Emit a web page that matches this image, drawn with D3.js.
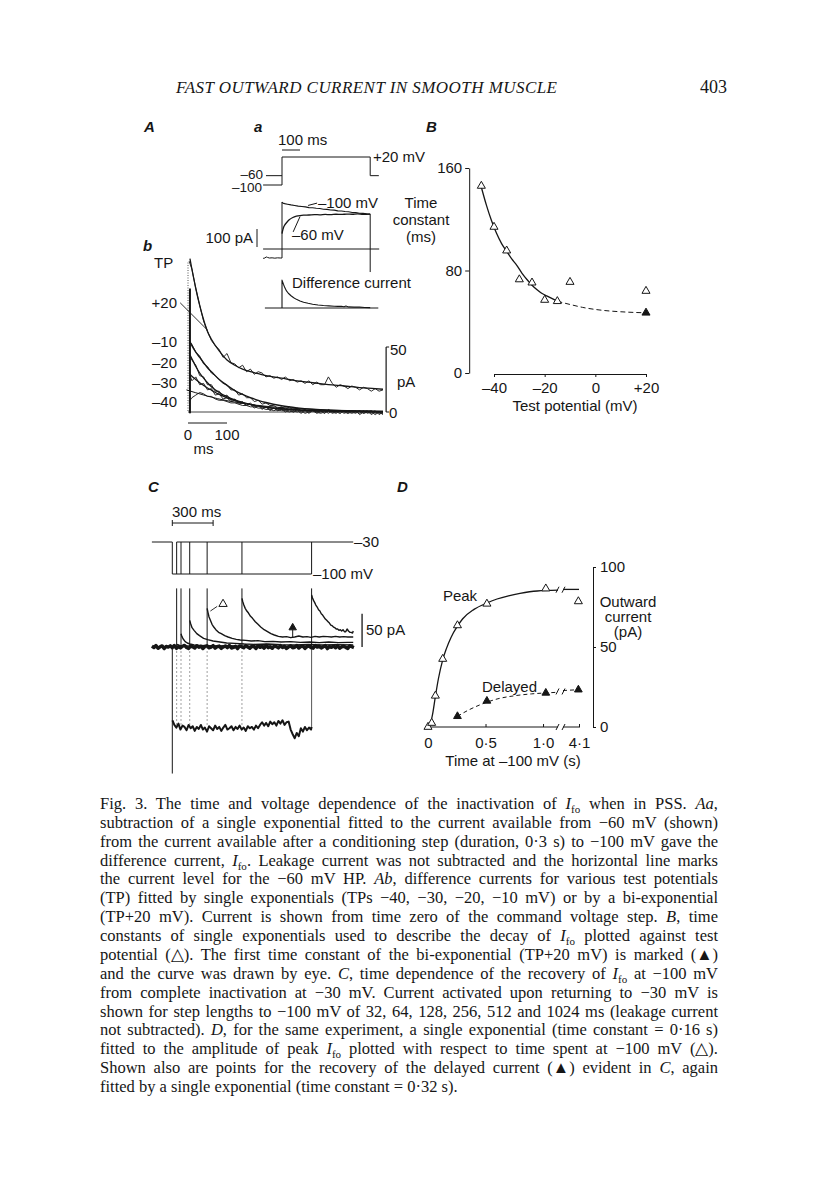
<!DOCTYPE html>
<html><head><meta charset="utf-8">
<script src="https://cdn.jsdelivr.net/npm/d3@7"></script>
<style>body{margin:0;background:#fff}</style>
</head><body>
<svg id="c" width="816" height="1183" style="background:#fff"></svg>
<script>
// ---------------- DATA ----------------
// Panel Aa: voltage protocol (ms, mV)
const aaStepT = [0, 0, 490, 490, 538];
const aaStepV = [-100, 20, 20, -60, -60];
const aaHold60T = [-89, 0];
const aaHold100T = [-105, 0];
// Panel Aa: currents (ms, pA)
const aa100T = [0,5,15,30,50,70,90,110,130,150,170,190,210,230,250,270,290,310,330,350,370,390,410,430,450,470,490];
const aa100I = [261,255,252,249,245,242,238,236,234,230,229,226,225,221,220,217,216,212,211,208,207,203,202,199,198,195,194];
const aa60T = [0,3,8,15,25,40,60,80,100,120,150,180,210,240,270,300,330,360,390,420,450,490];
const aa60I = [85,100,118,133,146,162,175,182,186,188,189,191,190,192,191,193,192,194,193,195,193,194];
const aaPreT = [-105,-95,-88,-80,-70,-55,-40,-25,-10,0];
const aaPreI = [-52,-50,-44,-47,-50,-49,-51,-49,-50,-50];
const aaDiffT = [0,0,8,16,25,35,50,65,80,100,120,145,170,200,230,260,290,310,330,345,355,370,400,430,460,490];
const aaDiffI = [0,155,132,112,95,82,68,57,48,39,32,26,21,17,14,12,10,9,10,7,11,6,5,5,3,2];

// Panel Ab: difference currents (ms, pA)
const abTP = ["+20", "–10", "–20", "–30", "–40"];
const abFitT = [5,10,20,30,40,50,60,80,100,120,140,160,180,200,240,280,320,360,400,440,480,500];
const abFitP20 = [118,110,95,82,71,62,56,47,40,36,33,31,29.5,28,26,24,22.5,21,20,18.8,18,17.5];
const abFitM10 = [54,51,46,42,38,34,31,25,20.5,16.5,13.5,11,9,7.3,4.8,3.2,2.1,1.4,1,0.7,0.5,0.4];
const abFitM20 = [44,41,35,30,26,22.5,19.5,15,11.8,9.3,7.4,5.9,4.7,3.8,2.5,1.7,1.1,0.8,0.5,0.4,0.3,0.2];
const abFitM30 = [29,27.5,25,22.5,20.5,18.5,16.8,13.5,10.8,8.7,7,5.6,4.5,3.6,2.4,1.6,1.1,0.7,0.5,0.3,0.2,0.2];
const abFitM40T = [-4,20,50,100,150,200,260,320,400,500];
const abFitM40 = [17,14.8,12.2,8.7,6.2,4.4,3,2,1.2,0.6];
const abRawT = [3,10,20,30,40,50,60,70,80,90,100,110,120,130,140,150,160,170,180,190,200,210,220,230,240,250,260,270,280,290,300,310,320,330,340,350,360,370,380,390,400,410,420,430,440,450,460,470,480,490,500];
const abRawP20 = [116,110,95,82,70,62,55,51,48,42,45,38,37,34,36,31,33,29,31,30,27,28,26,27,25,27,24,25,23,24,22,24,21,23,21,21,27,22,19,21,20,18,20,19,17,19,18,16,18,16,17];
const abRawM10 = [55,52,46,43,37,35,30,28,25,22,21,17,17,13,14,11,11,8,9,6,7,5,5,3,4,2,4,1,3,1,2,0,2,0,1,-1,2,0,1,-1,1,-1,0,1,-2,0,1,-2,0,-1,-1];
const abRawM20 = [45,40,36,28,27,21,21,16,16,12,13,9,10,7,8,5,7,4,5,3,4,2,3,1,2,1,1,0,2,0,1,-1,1,0,1,-1,1,0,-1,1,0,-1,1,0,-1,1,-1,0,-2,0,-1];
const abRawM30 = [30,24,27,21,22,17,18,13,14,10,11,8,9,6,7,5,6,3,5,2,4,1,3,1,2,0,2,0,1,-1,1,0,1,-1,0,1,-1,1,0,-1,1,0,-1,0,1,-1,0,-1,1,-2,0];
const abRawM40 = [8,11,13,15,14,12,12,10,9,9,8,7,7,6,5,5,4,4,3,3,2,2,1,2,1,1,0,1,0,1,-1,0,1,0,-1,0,1,-1,0,1,-1,0,0,-1,1,-1,0,1,-1,0,-2];

// Panel B: time constants (mV, ms)
const bTP = [-45,-40,-35,-30,-25,-20,-15,-10,20];
const bTau = [146,114,95.5,73,70.5,57,56,71,64];
const bFilledTP = [20];
const bFilledTau = [47];
const bFitTP = [-45,-43,-41,-39,-37,-35,-33,-31,-29,-27,-25,-23,-21,-19,-17,-15];
const bFitTau = [145,131,119,109,101,95,89,84,78,73,68.5,65,62,60,58,56];
const bDashTP = [-15,-10,-5,0,5,10,15,20];
const bDashTau = [56,53.5,51.2,49.6,48.5,47.8,47.3,47];
const bXTicks = [-40,-20,0,20];
const bYTicks = [0,80,160];

// Panel C: recovery protocol (ms, mV / pA)
const cStepLengths = [32,64,128,256,512,1024];
const cBaseT = [-150,-135,-120,-105,-90,-75,-60,-45,-30,-15,0,15,30,45,60,75,90,105,120,135,150,165,180,195,210,225,240,255,270,285,300,315,330,345,360,375,390,405,420,435,450,465,480,495,510,525,540,555,570,585,600,615,630,645,660,675,690,705,720,735,750,765,780,795,810,825,840,855,870,885,900,915,930,945,960,975,990,1005,1020,1035,1050,1065,1080,1095,1110,1125,1140,1155,1170,1185,1200,1215,1230,1245,1260,1275,1290,1305,1320,1335];
const cBaseI = [1.2,-0.8,2.1,-1.9,0.3,1.7,-2.4,0.9,-0.2,1.8,-1.1,2.3,-2.0,0.6,-1.4,1.1,2.4,-0.7,-2.2,1.5,0.2,-1.6,2.0,-0.4,1.3,-2.3,0.8,1.9,-1.2,-0.3,2.2,-1.8,0.5,1.4,-2.1,0.1,1.6,-0.9,2.3,-1.5,-0.6,1.0,-2.4,1.7,0.4,-1.3,2.1,-0.1,-1.9,1.2,0.7,-2.2,1.8,-0.5,0.9,-1.7,2.4,-1.0,0.3,-2.0,1.5,0.6,-1.4,2.0,-0.8,1.1,-2.3,0.2,1.9,-1.1,-0.4,2.2,-1.6,0.8,1.3,-2.1,0.5,1.7,-0.9,-1.8,2.3,-0.2,1.0,-1.5,0.4,2.1,-2.4,0.7,-0.6,1.6,-1.2,2.0,-1.9,0.1,1.4,-0.7,-2.2,1.8,0.3,-1.0];
const cT32 = [32,40,55,80,120,200,350,600,900,1330];
const cI32 = [4,3.5,2.5,2,1.5,1,1,0.5,0.5,0.5];
const cT64 = [64,70,80,95,110,130,160,200,260,330,420,520,650,800,950,1100,1250,1330];
const cI64 = [20,16,12,8,6,4.5,3,2.5,2,1.5,2,1,1.5,1,1.5,1,0.5,1];
const cT128 = [128,135,145,160,180,200,230,260,300,350,400,460,530,600,700,800,900,1000,1100,1200,1330];
const cI128 = [40,35,29,25,20,17,13,11,9,7.5,6,5.5,4.5,4,4.5,3.5,3,4,3,3.5,3];
const cT256 = [256,262,270,280,292,305,320,340,360,385,410,440,470,500,540,580,630,680,740,800,870,940,1010,1080,1150,1220,1290,1330];
const cI256 = [58,52,45,40,34,30,26,22,20,17,15,13,11.5,10.5,10,9,9.5,8,8.5,7.5,8,7,7.5,6.5,7.5,6.5,7,7];
const cT512 = [512,518,526,536,548,560,575,590,610,630,650,675,700,725,750,780,810,840,870,900,930,960,990,1020,1050,1080,1110,1140,1170,1200,1230,1260,1290,1330];
const cI512 = [73,68,63,58,54,51,46,43,38,34,30,26,23,20,18,16,15,15.5,14,15,16.5,15,15.5,14.5,16,15,16,15.5,15,16,15,15.5,15,15];
const cT1024 = [1024,1030,1038,1046,1055,1065,1075,1085,1095,1105,1115,1125,1135,1145,1155,1165,1175,1185,1195,1205,1215,1225,1235,1245,1255,1265,1275,1285,1295,1305,1315,1325,1330];
const cI1024 = [78,74,70,67,63,60,56,54,50,48,45,42,40,38,36,33,32,30,29,27,27,25,26,24,26,23,23,27,24,22,22,21,24];
const cInT = [1,15,30,45,60,75,90,105,120,135,150,165,180,195,210,225,240,255,270,285,300,315,330,345,360,375,390,405,420,435,450,465,480,495,510,525,540,555,570,585,600,615,630,645,660,675,690,705,720,735,750,765,780,795,810,825,840,855,870,885,900,915,930,945,960,975,990,1005,1020,1024];
const cInI = [-110,-117,-121,-115,-124,-118,-120,-125,-117,-122,-119,-126,-120,-123,-117,-124,-121,-127,-119,-122,-125,-118,-123,-120,-126,-121,-117,-124,-122,-119,-125,-120,-123,-118,-124,-121,-126,-119,-122,-120,-124,-118,-122,-117,-113,-118,-114,-119,-112,-116,-113,-118,-111,-115,-110,-117,-113,-112,-124,-131,-137,-129,-134,-122,-127,-120,-125,-121,-124,-120];

// Panel D: recovery amplitudes (s, pA)
const dPeakT = [0,0.032,0.064,0.128,0.256,0.512,1.024,4.096];
const dPeakI = [0,2.5,19.5,42.5,63.5,77,86.5,78.5];
const dDelT = [0.256,0.512,1.024,4.096];
const dDelI = [6.7,16.3,21.3,23.3];
const dPeakFitT = [0,0.02,0.04,0.064,0.09,0.128,0.16,0.2,0.256,0.3,0.4,0.512,0.6,0.7,0.8,0.95,1.13];
const dPeakFitI = [0,2,8,19,30,42,49,56,63,67.5,73.5,77.5,80,82,83.5,85,85.5];
const dPeakFit2T = [4.0,4.1];
const dPeakFit2I = [86,86];
const dDelFitT = [0.256,0.35,0.45,0.512,0.6,0.75,0.9,1.024,1.13];
const dDelFitI = [6.7,10.5,13.8,15.5,17.5,19.5,20.7,21.3,21.7];
const dDelFit2T = [4.0,4.096];
const dDelFit2I = [22.8,23.3];
const dXTicks = [0,0.5,1.0,4.1];
const dYTicks = [0,50,100];

const captionLines = [
 "Fig. 3. The time and voltage dependence of the inactivation of <i>I</i><s>fo</s> when in PSS. <i>Aa</i>,",
 "subtraction of a single exponential fitted to the current available from −60 mV (shown)",
 "from the current available after a conditioning step (duration, 0·3 s) to −100 mV gave the",
 "difference current, <i>I</i><s>fo</s>. Leakage current was not subtracted and the horizontal line marks",
 "the current level for the −60 mV HP. <i>Ab</i>, difference currents for various test potentials",
 "(TP) fitted by single exponentials (TPs −40, −30, −20, −10 mV) or by a bi-exponential",
 "(TP+20 mV). Current is shown from time zero of the command voltage step. <i>B</i>, time",
 "constants of single exponentials used to describe the decay of <i>I</i><s>fo</s> plotted against test",
 "potential (△). The first time constant of the bi-exponential (TP+20 mV) is marked (▲)",
 "and the curve was drawn by eye. <i>C</i>, time dependence of the recovery of <i>I</i><s>fo</s> at −100 mV",
 "from complete inactivation at −30 mV. Current activated upon returning to −30 mV is",
 "shown for step lengths to −100 mV of 32, 64, 128, 256, 512 and 1024 ms (leakage current",
 "not subtracted). <i>D</i>, for the same experiment, a single exponential (time constant = 0·16 s)",
 "fitted to the amplitude of peak <i>I</i><s>fo</s> plotted with respect to time spent at −100 mV (△).",
 "Shown also are points for the recovery of the delayed current (▲) evident in <i>C</i>, again",
 "fitted by a single exponential (time constant = 0·32 s)."
];

// ---------------- DRAWING ----------------
const SANS = "'Liberation Sans', Arial, Helvetica, sans-serif";
const SERIF = "'Liberation Serif', 'Times New Roman', serif";
const INK = "#161616";
const FS = 15;
const svg = d3.select("#c");
svg.append("rect").attr("width",816).attr("height",1183).attr("fill","#fff");
const g = svg.append("g");

function path(xs, ys, sx, sy, o = {}) {
  const data = xs.map((v, i) => [v, ys[i]]);
  const p = g.append("path").datum(data)
    .attr("d", d3.line().x(d => sx(d[0])).y(d => sy(d[1])).curve(o.curve || d3.curveLinear))
    .attr("fill", "none").attr("stroke", o.c || INK).attr("stroke-width", o.w || 1)
    .attr("stroke-linejoin", "round");
  if (o.dash) p.attr("stroke-dasharray", o.dash);
  return p;
}
function seg(x1, y1, x2, y2, o = {}) {
  const l = g.append("line").attr("x1", x1).attr("y1", y1).attr("x2", x2).attr("y2", y2)
    .attr("stroke", o.c || INK).attr("stroke-width", o.w || 1);
  if (o.dash) l.attr("stroke-dasharray", o.dash);
  return l;
}
function txt(x, y, s, o = {}) {
  const t = g.append("text").attr("x", x).attr("y", y).text(s)
    .attr("font-family", o.f || SANS).attr("font-size", o.s || FS).attr("fill", INK);
  if (o.a) t.attr("text-anchor", o.a);
  if (o.i) t.attr("font-style", "italic");
  if (o.b) t.attr("font-weight", "bold");
  return t;
}
function tri(x, y, filled, size) {
  g.append("path").attr("d", d3.symbol(d3.symbolTriangle, size || 30)())
    .attr("transform", `translate(${x},${y})`)
    .attr("fill", filled ? INK : "#fff").attr("stroke", INK).attr("stroke-width", 1);
}

// Header
txt(176, 93, "FAST OUTWARD CURRENT IN SMOOTH MUSCLE", {f: SERIF, s: 17, i: true})
  .attr("textLength", 381).attr("lengthAdjust", "spacing");
txt(700, 93, "403", {f: SERIF, s: 18});

// Panel letters
txt(144, 132, "A", {i: true, b: true});
txt(254, 132, "a", {i: true, b: true});
txt(426, 132, "B", {i: true, b: true});
txt(143, 251, "b", {i: true, b: true});
txt(148, 492, "C", {i: true, b: true});
txt(397, 492, "D", {i: true, b: true});

// ---- Panel Aa ----
const xA = d3.scaleLinear().domain([0, 100]).range([282, 300]);
const yAv = d3.scaleLinear().domain([-100, 20]).range([185, 157]);
const yAi = d3.scaleLinear().domain([0, 100]).range([249, 231]);
const yAd = d3.scaleLinear().domain([0, 100]).range([308, 290]);

path(aaStepT, aaStepV, xA, yAv);
path(aaHold60T, [-60, -60], xA, yAv);
path(aaHold100T, [-100, -100], xA, yAv);
seg(xA(0), 150, xA(100), 150);
txt(278, 145, "100 ms");
txt(373, 162, "+20 mV");
txt(263, 179, "–60", {s: 13.5, a: "end"});
txt(262, 192, "–100", {s: 13.5, a: "end"});

path([-105, 540], [0, 0], xA, yAi);
path(aaPreT, aaPreI, xA, yAi);
seg(xA(0), yAi(-50), xA(0), yAi(261));
path(aa100T, aa100I, xA, yAi, {w: 1.1});
path(aa60T, aa60I, xA, yAi, {w: 1.3, curve: d3.curveMonotoneX});
seg(xA(490), yAi(194), xA(490), yAi(-128));
seg(257, yAi(111), 257, yAi(11));
txt(253, 243, "100 pA", {a: "end"});
seg(xA(145), yAi(242), xA(195), yAi(255));
txt(318, 208, "–100 mV");
seg(xA(62), yAi(95), xA(100), yAi(180));
txt(292, 240, "–60 mV");

path([-95, 535], [0, 0], xA, yAd);
path(aaDiffT, aaDiffI, xA, yAd, {w: 1.1});
txt(292, 288, "Difference current");

// ---- Panel Ab ----
const xB = d3.scaleLinear().domain([0, 100]).range([188, 227]);
const yB = d3.scaleLinear().domain([0, 50]).range([412, 347]);
seg(xB(0), yB(115), xB(0), yB(0), {dash: "1,1.5", c: "#555"});
seg(xB(0), yB(0), xB(500), yB(0), {c: "#444"});
[abRawP20, abRawM10, abRawM20, abRawM30, abRawM40].forEach(r => path(abRawT, r, xB, yB, {w: 1, c: "#2a2a2a"}));
path(abFitT, abFitP20, xB, yB, {w: 1.3, curve: d3.curveMonotoneX});
path(abFitT, abFitM10, xB, yB, {w: 1.4, curve: d3.curveMonotoneX});
path(abFitT, abFitM20, xB, yB, {w: 1.3, curve: d3.curveMonotoneX});
path(abFitT, abFitM30, xB, yB, {w: 1.3, curve: d3.curveMonotoneX});
path(abFitM40T, abFitM40, xB, yB, {w: 1, curve: d3.curveMonotoneX});
seg(xB(5), yB(95), xB(5), yB(-1), {w: 2});
seg(xB(-20), yB(84), xB(50), yB(63), {w: 0.9});
txt(154, 268, "TP");
const abLabY = [308, 347, 368, 388, 407];
abTP.forEach((s, i) => txt(177, abLabY[i], s, {a: "end"}));
seg(xB(508), yB(50), xB(508), yB(0), {w: 1.2});
seg(xB(508), yB(50), xB(508) + 3, yB(50));
seg(xB(508), yB(0), xB(508) + 3, yB(0));
txt(390, 355, "50");
txt(397, 387, "pA");
txt(389, 418, "0");
seg(xB(0), 423, xB(100), 423);
txt(xB(0), 440, "0", {a: "middle"});
txt(xB(100), 440, "100", {a: "middle"});
txt(xB(40), 454, "ms", {a: "middle"});

// ---- Panel B ----
const xBp = d3.scaleLinear().domain([-40, 20]).range([494, 646]);
const yBp = d3.scaleLinear().domain([0, 160]).range([373, 168]);
const axB_y = g.append("g").attr("transform", `translate(${xBp(-49.8)},0)`)
  .call(d3.axisLeft(yBp).tickValues(bYTicks).tickSize(4).tickSizeOuter(0).tickPadding(3));
const axB_x = g.append("g").attr("transform", `translate(0,${yBp(0) + 1})`)
  .call(d3.axisBottom(xBp).tickValues(bXTicks).tickSize(3).tickSizeOuter(0).tickPadding(5)
    .tickFormat(d => d > 0 ? "+" + d : d < 0 ? "–" + (-d) : "0"));
[axB_y, axB_x].forEach(a => {
  a.selectAll("text").attr("font-family", SANS).attr("font-size", FS).attr("fill", INK);
  a.selectAll("line,path").attr("stroke", INK);
});
path(bFitTP, bFitTau, xBp, yBp, {w: 1.3, curve: d3.curveMonotoneX});
path(bDashTP, bDashTau, xBp, yBp, {w: 1, dash: "5,3", curve: d3.curveMonotoneX});
bTP.forEach((v, i) => tri(xBp(v), yBp(bTau[i]), false, 28));
bFilledTP.forEach((v, i) => tri(xBp(v), yBp(bFilledTau[i]), true, 28));
txt(421, 208, "Time", {a: "middle"});
txt(421, 225, "constant", {a: "middle"});
txt(421, 242, "(ms)", {a: "middle"});
txt(575, 411, "Test potential (mV)", {a: "middle"});

// ---- Panel C ----
const xC = d3.scaleLinear().domain([0, 1024]).range([172.3, 311.6]);
const yCv = d3.scaleLinear().domain([-100, -30]).range([574, 542]);
const yCi = d3.scaleLinear().domain([0, 50]).range([647, 613.7]);
seg(xC(0), 523, xC(300), 523);
seg(xC(0), 520, xC(0), 526); seg(xC(300), 520, xC(300), 526);
txt(172, 517, "300 ms");
path([-150, 0, 0, 1024], [-30, -30, -100, -100], xC, yCv);
path([32, 1330], [-30, -30], xC, yCv);
cStepLengths.forEach(L => seg(xC(L), yCv(-100), xC(L), yCv(-30)));
txt(354, 547, "–30");
txt(313, 579, "–100 mV");

cStepLengths.slice(0, 5).forEach(L => seg(xC(L), yCi(0), xC(L), yCi(-118), {dash: "2,2", c: "#888", w: 0.8}));
seg(xC(1024), yCi(-120), xC(1024), yCi(0), {w: 0.9, c: "#444"});
path(cBaseT, cBaseI, xC, yCi, {w: 3.4});
cStepLengths.forEach(L => seg(xC(L), yCi(0), xC(L), yCi(88), {w: 1}));
seg(xC(0), yCi(0), xC(0), yCi(-190), {w: 1});
[[cT32, cI32], [cT64, cI64], [cT128, cI128], [cT256, cI256], [cT512, cI512], [cT1024, cI1024]]
  .forEach(([t, v]) => path(t, v, xC, yCi, {w: 1.4}));
path(cInT, cInI, xC, yCi, {w: 2});
tri(xC(373), yCi(64.5), false, 30);
seg(xC(330), yCi(61), xC(280), yCi(54), {w: 0.9});
tri(xC(885), yCi(29), true, 24);
seg(xC(885), yCi(26), xC(885), yCi(15), {w: 1});
seg(xC(1395), yCi(50), xC(1395), yCi(0), {w: 1.3});
txt(366, 635, "50 pA");

// ---- Panel D ----
const xD = d3.scaleLinear().domain([0, 1.13, 4.0, 4.1]).range([428, 558, 563, 579]);
const yD = d3.scaleLinear().domain([0, 100]).range([727, 567]);
const axD_y = g.append("g").attr("transform", `translate(593,0)`)
  .call(d3.axisRight(yD).tickValues(dYTicks).tickSize(3).tickSizeOuter(0).tickPadding(4));
const axD_x = g.append("g").attr("transform", `translate(0,${yD(0)})`)
  .call(d3.axisBottom(xD).tickValues(dXTicks).tickSize(-3).tickSizeOuter(0).tickPadding(10)
    .tickFormat(d => d === 0 ? "0" : d3.format(".1f")(d).replace(".", "·")));
axD_x.select(".domain").remove();
[axD_y, axD_x].forEach(a => {
  a.selectAll("text").attr("font-family", SANS).attr("font-size", FS).attr("fill", INK);
  a.selectAll("line,path").attr("stroke", INK);
});
seg(xD(0), yD(0), xD(1.13), yD(0));
seg(xD(4.0), yD(0), xD(4.1) + 1, yD(0));
function brk(y) {
  seg(xD(1.13) - 2, y + 3, xD(1.13) + 1, y - 3);
  seg(xD(4.0) - 1, y + 3, xD(4.0) + 2, y - 3);
}
brk(yD(0));
path(dPeakFitT, dPeakFitI, xD, yD, {w: 1.3, curve: d3.curveMonotoneX});
path(dPeakFit2T, dPeakFit2I, xD, yD, {w: 1.3});
brk(yD(85.8));
path(dDelFitT, dDelFitI, xD, yD, {w: 1, dash: "4,3", curve: d3.curveMonotoneX});
path(dDelFit2T, dDelFit2I, xD, yD, {w: 1, dash: "4,3"});
brk(yD(22.2));
dPeakT.forEach((v, i) => tri(xD(v), yD(dPeakI[i]), false, 28));
dDelT.forEach((v, i) => tri(xD(v), yD(dDelI[i]), true, 26));
txt(460, 601, "Peak", {a: "middle"});
txt(482, 692, "Delayed");
txt(628, 607, "Outward", {a: "middle"});
txt(628, 622, "current", {a: "middle"});
txt(628, 637, "(pA)", {a: "middle"});
txt(513, 766, "Time at –100 mV (s)", {a: "middle"});

// ---- Caption ----
const capX = 100, capW = 618, capY0 = 809, capDY = 18.87;
captionLines.forEach((ln, i) => {
  const t = g.append("text").attr("x", capX).attr("y", capY0 + i * capDY)
    .attr("font-family", SERIF).attr("font-size", 16.5).attr("fill", INK);
  const parts = ln.split(/(<i>.*?<\/i>|<s>.*?<\/s>)/).filter(p => p.length);
  let lastSub = false;
  parts.forEach(p => {
    let ts;
    if (p.startsWith("<i>")) { ts = t.append("tspan").attr("font-style", "italic").text(p.slice(3, -4)); if (lastSub) ts.attr("dy", -4); lastSub = false; }
    else if (p.startsWith("<s>")) { ts = t.append("tspan").attr("font-size", 11).attr("dy", 4).text(p.slice(3, -4)); lastSub = true; }
    else { ts = t.append("tspan").text(p); if (lastSub) ts.attr("dy", -4); lastSub = false; }
  });
  if (i < captionLines.length - 1) {
    const w = t.node().getComputedTextLength();
    const plain = ln.replace(/<[^>]+>/g, "");
    const n = (plain.match(/ /g) || []).length;
    if (n > 0) t.style("word-spacing", ((capW - w) / n) + "px");
  }
});
</script>
</body></html>
